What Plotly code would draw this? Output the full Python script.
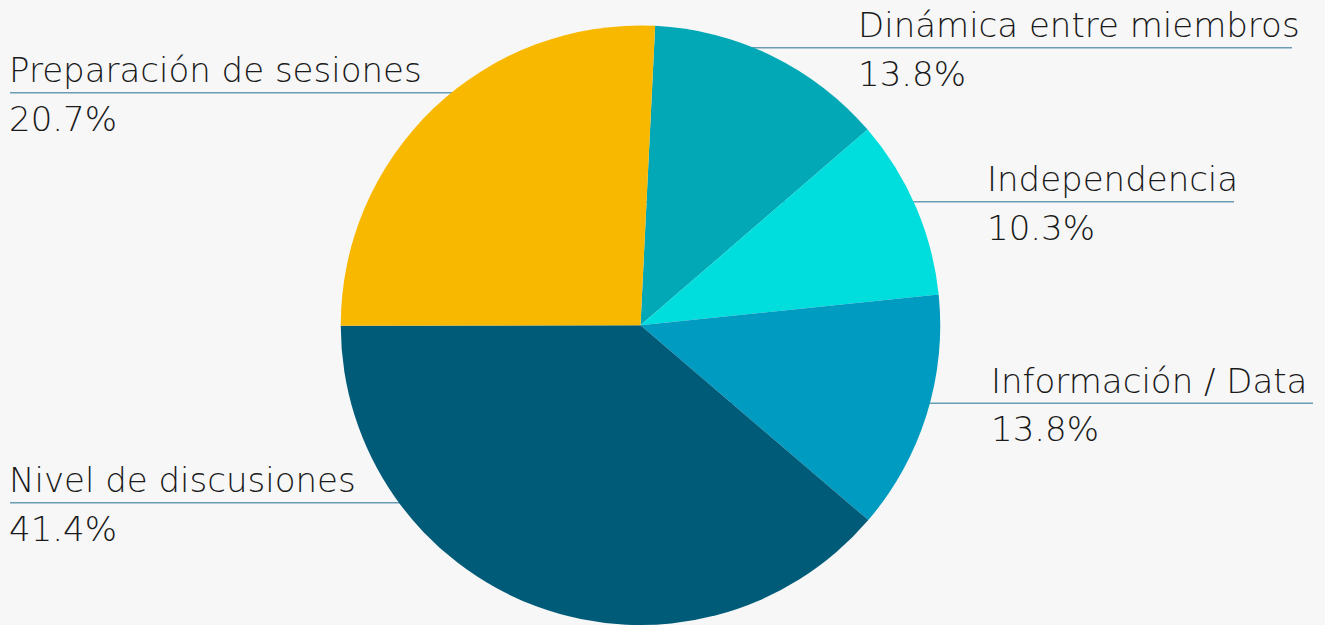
import plotly.graph_objects as go

# Data
categories = ["Dinámica entre miembros", "Independencia", "Información / Data",
              "Nivel de discusiones", "Preparación de sesiones"]
slice_values = [4, 3, 4, 12, 8]          # slice sizes as drawn
pct_labels = [13.8, 10.3, 13.8, 41.4, 20.7]  # percentages as printed
colors = ["#02A8B5", "#00DDDD", "#009BC0", "#005B78", "#F9B800"]

W, H = 1325, 625
CX, CY, R = 640.5, 325.5, 300

# label layout (pixels): line y, text x, line end x, side
label_layout = [
    (47.7, 858.5, 1292, "right"),
    (201.7, 988, 1234, "right"),
    (403.3, 992, 1313, "right"),
    (502.7, 10, 10, "left"),
    (92.7, 10, 10, "left"),
]

fig = go.Figure(go.Pie(
    labels=categories,
    values=slice_values,
    marker=dict(colors=colors, line=dict(width=0)),
    sort=False,
    direction="clockwise",
    rotation=2.8,
    textinfo="none",
    hoverinfo="label+percent",
    domain=dict(x=[(CX - R) / W, (CX + R) / W], y=[0, (H - (CY - R)) / H]),
    showlegend=False,
))

shapes = []
annotations = []
font = dict(family="DejaVu Sans", size=34, color="#1a1a1a", weight=200)
for cat, pct, (ly, tx, lend, side) in zip(categories, pct_labels, label_layout):
    shapes.append(dict(type="line", xref="paper", yref="paper",
                       x0=CX / W, x1=lend / W, y0=1 - ly / H, y1=1 - ly / H,
                       line=dict(color="#6A9DB3", width=1.5), layer="below"))
    annotations.append(dict(text=cat, x=(tx - 3) / W, y=1 - (ly - 22.5) / H, xref="paper", yref="paper",
                            xanchor="left", yanchor="middle", showarrow=False, font=font))
    annotations.append(dict(text=f"{pct}%", x=(tx - 3) / W, y=1 - (ly + 26) / H, xref="paper", yref="paper",
                            xanchor="left", yanchor="middle", showarrow=False, font=font))

fig.update_layout(
    width=W, height=H,
    margin=dict(l=0, r=0, t=0, b=0),
    paper_bgcolor="#F7F7F7",
    plot_bgcolor="#F7F7F7",
    shapes=shapes,
    annotations=annotations,
)

fig.write_html("out.html")
